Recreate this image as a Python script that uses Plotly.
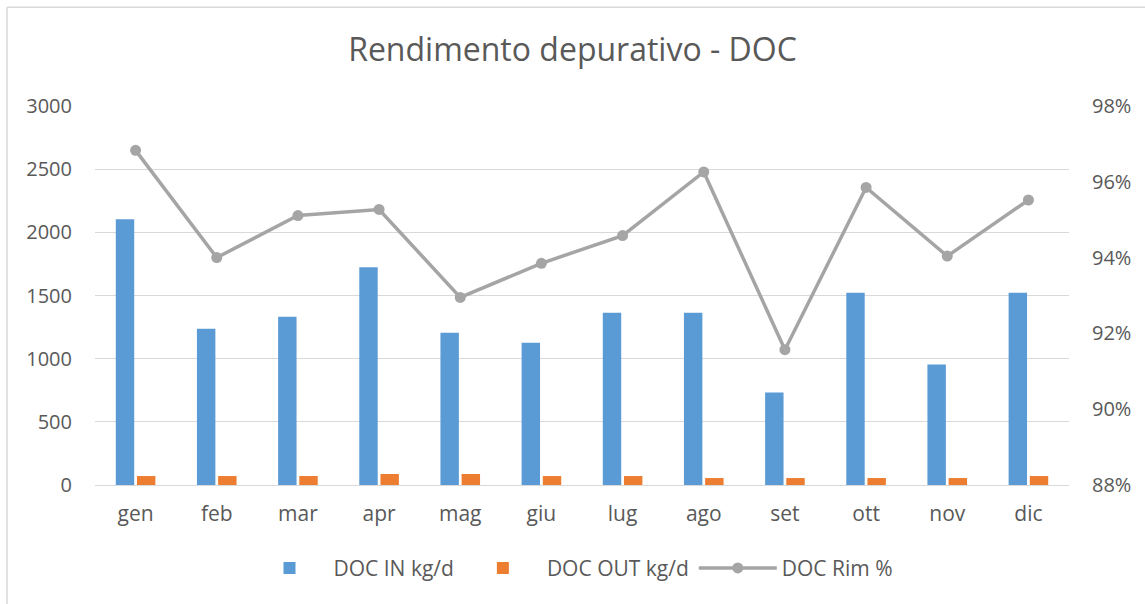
import plotly.graph_objects as go

months = ["gen", "feb", "mar", "apr", "mag", "giu", "lug", "ago", "set", "ott", "nov", "dic"]
doc_in = [2103, 1236, 1331, 1723, 1205, 1126, 1363, 1363, 733, 1521, 954, 1521]
doc_out = [71, 71, 71, 87, 87, 71, 71, 55, 55, 55, 55, 71]
doc_rim = [0.9683, 0.9400, 0.9511, 0.9527, 0.9295, 0.9385, 0.9458, 0.9626, 0.9157, 0.9585, 0.9404, 0.9552]

FONT = "Open Sans, sans-serif"
TXT = "#595959"

fig = go.Figure()
fig.add_trace(go.Bar(x=months, y=doc_in, name="DOC IN kg/d", marker=dict(color="#5B9BD5", line=dict(width=0))))
fig.add_trace(go.Bar(x=months, y=doc_out, name="DOC OUT kg/d", marker=dict(color="#ED7D31", line=dict(width=0))))
fig.add_trace(go.Scatter(x=months, y=doc_rim, name="DOC Rim %", yaxis="y2", mode="lines+markers",
                         line=dict(color="#A5A5A5", width=3.5), marker=dict(color="#A5A5A5", size=11)))

W, H = 1145, 604
l, r, t, b = 95, 76, 105.7, 119.3
pw, ph = W - l - r, H - t - b

def px_to_paper_x(px):
    return (px - l) / pw

def px_to_paper_y(py):
    return (H - b - py) / ph

fig.update_layout(
    width=W, height=H,
    margin=dict(l=l, r=r, t=t, b=b, autoexpand=False),
    paper_bgcolor="white", plot_bgcolor="white",
    font=dict(family=FONT, color=TXT, size=20),
    title=dict(text="Rendimento depurativo - DOC", x=0.5, xanchor="center", y=1 - 50 / H, yanchor="middle",
               font=dict(family=FONT, size=32, color=TXT)),
    barmode="group", bargap=0.478, bargroupgap=0.13,
    xaxis=dict(range=[-0.5, 11.5], showgrid=False, showline=False, ticks="", tickfont=dict(size=21, color=TXT),
               ticklabelstandoff=14),
    yaxis=dict(range=[0, 3000], dtick=500, showgrid=True, gridcolor="#D9D9D9", gridwidth=1.3,
               zeroline=True, zerolinecolor="#D9D9D9", zerolinewidth=1.3, showline=False,
               tickfont=dict(size=20, color=TXT), ticklabelstandoff=22),
    yaxis2=dict(range=[0.88, 0.98], dtick=0.02, tickformat=".0%", overlaying="y", side="right",
                showgrid=False, zeroline=False, showline=False,
                tickfont=dict(size=20, color=TXT), ticklabelstandoff=22),
    legend=dict(orientation="h", x=px_to_paper_x(572), xanchor="center", y=px_to_paper_y(568), yanchor="middle",
                font=dict(size=21, color=TXT), itemwidth=78, traceorder="normal"),
    shapes=[
        dict(type="line", xref="paper", yref="paper", x0=px_to_paper_x(7), x1=px_to_paper_x(7),
             y0=px_to_paper_y(7), y1=px_to_paper_y(H + 5), line=dict(color="#D9D9D9", width=1.5)),
        dict(type="line", xref="paper", yref="paper", x0=px_to_paper_x(7), x1=px_to_paper_x(W + 5),
             y0=px_to_paper_y(7), y1=px_to_paper_y(7), line=dict(color="#D9D9D9", width=1.5)),
    ],
)

fig.write_html("out.html", config={"displayModeBar": False},
               post_script="document.body.style.margin='0';document.body.style.overflow='hidden';")
